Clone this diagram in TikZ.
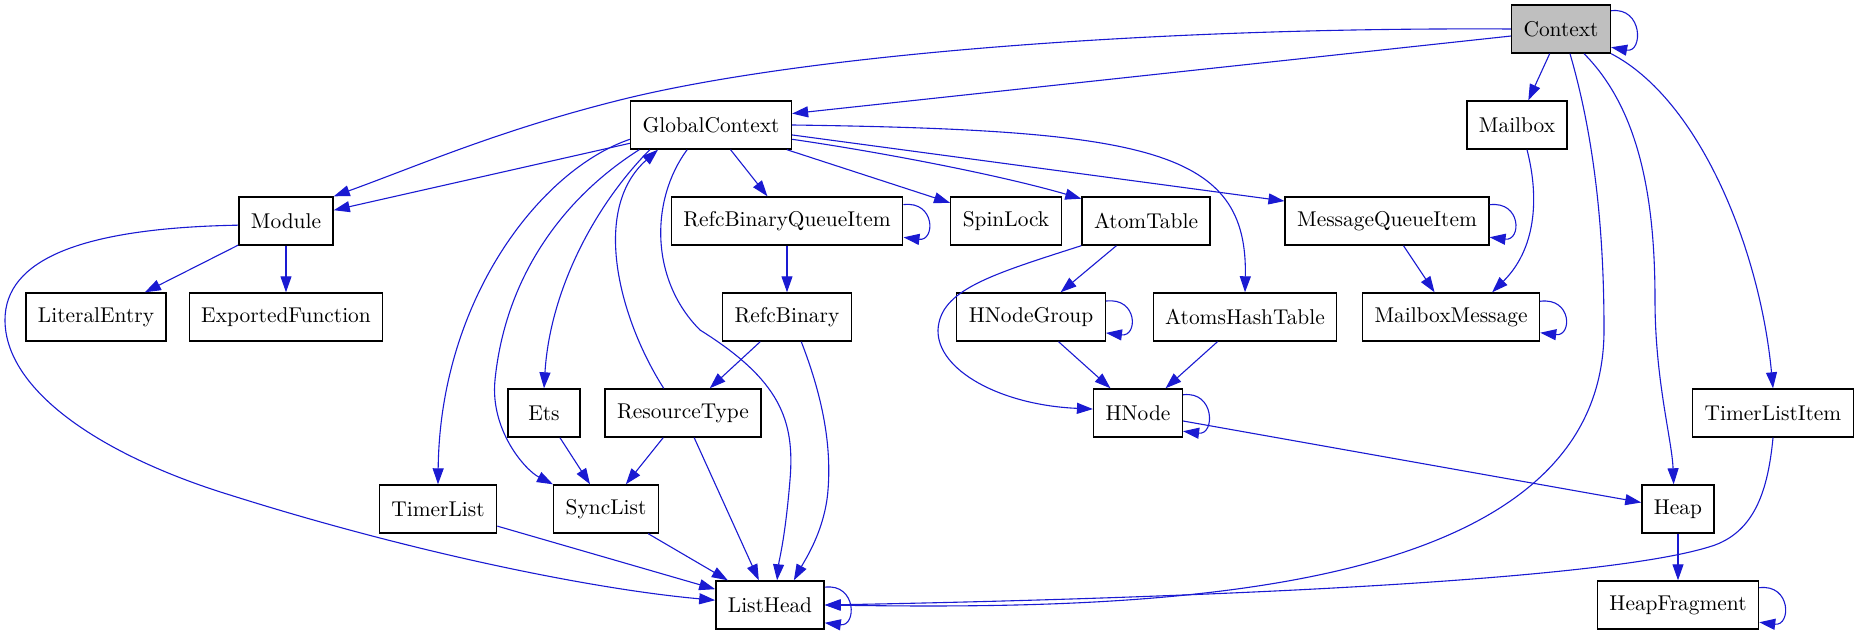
\documentclass[tikz,border=0pt]{standalone}
\usepackage{tikz}
\usetikzlibrary{arrows.meta, positioning, calc}
\definecolor{edgeblue}{HTML}{1A1AD2}
\definecolor{ctxgray}{HTML}{BFBFBF}

\begin{document}
\begin{tikzpicture}[x=0.5pt, y=-0.5pt,
  cls/.style={draw=black, line width=0.7pt, fill=white, rectangle, minimum height=24pt, minimum width=36pt, inner xsep=6pt, inner ysep=0pt, font=\fontsize{10.7}{12}\selectfont},
  dep/.style={edgeblue, line width=0.55pt, -{Triangle[length=8pt, width=5.5pt]}}]
  % canvas
  \fill[white] (0,0) rectangle (1858,635);
  \useasboundingbox (0,0) rectangle (1858,635);

  % classes
  \node[cls, fill=ctxgray] (ctx) at (1561,29) {Context};
  \node[cls] (gc) at (711,125) {GlobalContext};
  \node[cls] (mbox) at (1517,125) {Mailbox};
  \node[cls] (mod) at (286,221) {Module};
  \node[cls] (rbqi) at (787,221) {RefcBinaryQueueItem};
  \node[cls] (spin) at (1006,221) {SpinLock};
  \node[cls] (atab) at (1146,221) {AtomTable};
  \node[cls] (mqi) at (1387,221) {MessageQueueItem};
  \node[cls] (lit) at (96,317) {LiteralEntry};
  \node[cls] (expf) at (286,317) {ExportedFunction};
  \node[cls] (rb) at (787,317) {RefcBinary};
  \node[cls] (hng) at (1031,317) {HNodeGroup};
  \node[cls] (aht) at (1245,317) {AtomsHashTable};
  \node[cls] (mmsg) at (1451,317) {MailboxMessage};
  \node[cls] (ets) at (544,413) {Ets};
  \node[cls] (rt) at (683,413) {ResourceType};
  \node[cls] (hnode) at (1138,413) {HNode};
  \node[cls] (tli) at (1773,413) {TimerListItem};
  \node[cls] (tl) at (438,509) {TimerList};
  \node[cls] (sync) at (606,509) {SyncList};
  \node[cls] (heap) at (1678,509) {Heap};
  \node[cls] (lh) at (770,605) {ListHead};
  \node[cls] (hf) at (1678,605) {HeapFragment};

  % Context
  \draw[dep] (ctx.20) .. controls +(32,-4) and +(32,6) .. (ctx.-20);
  \draw[dep] (ctx.west) .. controls (1150,27) and (800,55) .. (620,100) .. controls (500,130) and (420,165) .. (mod.north east);
  \draw[dep] (ctx.188) -- (gc.8);
  \draw[dep] (ctx) -- (mbox);
  \draw[dep] (ctx.-70) .. controls (1598,150) and (1604,250) .. (1604,330) .. controls (1604,600) and (1150,610) .. (lh.east);
  \draw[dep] (ctx.-47) .. controls (1640,110) and (1655,200) .. (1655,300) .. controls (1655,380) and (1672,440) .. (heap.100);
  \draw[dep] (ctx.south east) .. controls (1700,100) and (1760,250) .. (tli.north);

  % GlobalContext
  \draw[dep] (gc) -- (mod);
  \draw[dep] (gc.190) .. controls (540,170) and (440,300) .. (tl.north);
  \draw[dep] (gc.199) .. controls (560,200) and (505,280) .. (495,380) .. controls (490,430) and (525,470) .. (sync.north west);
  \draw[dep] (gc.202) .. controls (595,205) and (550,290) .. (ets.north);
  \draw[dep] (rt.128) .. controls (620,320) and (590,210) .. (gc.205);
  \draw[dep] (gc.226) .. controls (650,200) and (650,280) .. (700,330) .. controls (780,380) and (795,420) .. (790,480) .. controls (785,540) and (779,560) .. (lh.74);
  \draw[dep] (gc) -- (rbqi);
  \draw[dep] (gc) -- (spin);
  \draw[dep] (gc.-10) .. controls (880,152) and (1000,175) .. (atab.161);
  \draw[dep] (gc.-7) -- (mqi.169);
  \draw[dep] (gc.east) .. controls (1150,130) and (1248,150) .. (aht.north);

  % Module
  \draw[dep] (mod) -- (lit);
  \draw[dep] (mod) -- (expf);
  \draw[dep] (mod.185) .. controls (80,228) and (5,260) .. (5,320) .. controls (5,390) and (100,455) .. (230,495) .. controls (420,555) and (600,590) .. (lh.175);

  % RefcBinary
  \draw[dep] (rbqi.8) .. controls +(32,-4) and +(32,4) .. (rbqi.-8);
  \draw[dep] (rbqi) -- (rb);
  \draw[dep] (rb) -- (rt);
  \draw[dep] (rb.-60) .. controls (820,390) and (832,440) .. (828,490) .. controls (825,530) and (805,560) .. (lh.46);

  % atoms
  \draw[dep] (atab) -- (hng);
  \draw[dep] (atab.south west) .. controls (990,275) and (940,290) .. (938,330) .. controls (937,370) and (1000,405) .. (hnode.175);
  \draw[dep] (hng.12) .. controls +(32,-4) and +(32,4) .. (hng.-12);
  \draw[dep] (hng) -- (hnode);
  \draw[dep] (aht) -- (hnode);
  \draw[dep] (hnode.22) .. controls +(32,-4) and +(32,4) .. (hnode.-22);
  \draw[dep] (hnode) -- (heap);

  % messages
  \draw[dep] (mqi.9) .. controls +(32,-4) and +(32,4) .. (mqi.-9);
  \draw[dep] (mqi) -- (mmsg);
  \draw[dep] (mbox.-68) .. controls (1540,200) and (1535,250) .. (mmsg.31);
  \draw[dep] (mmsg.10) .. controls +(32,-4) and +(32,4) .. (mmsg.-10);

  % lists and heap
  \draw[dep] (ets) -- (sync);
  \draw[dep] (rt) -- (sync);
  \draw[dep] (rt) -- (lh);
  \draw[dep] (tl) -- (lh);
  \draw[dep] (sync) -- (lh);
  \draw[dep] (lh.18) .. controls +(32,-4) and +(32,4) .. (lh.-18);
  \draw[dep] (heap) -- (hf);
  \draw[dep] (hf.12) .. controls +(32,-4) and +(32,4) .. (hf.-12);
  \draw[dep] (tli.south) .. controls (1768,490) and (1755,530) .. (1715,545) .. controls (1600,585) and (1100,600) .. (lh.east);
\end{tikzpicture}
\end{document}
